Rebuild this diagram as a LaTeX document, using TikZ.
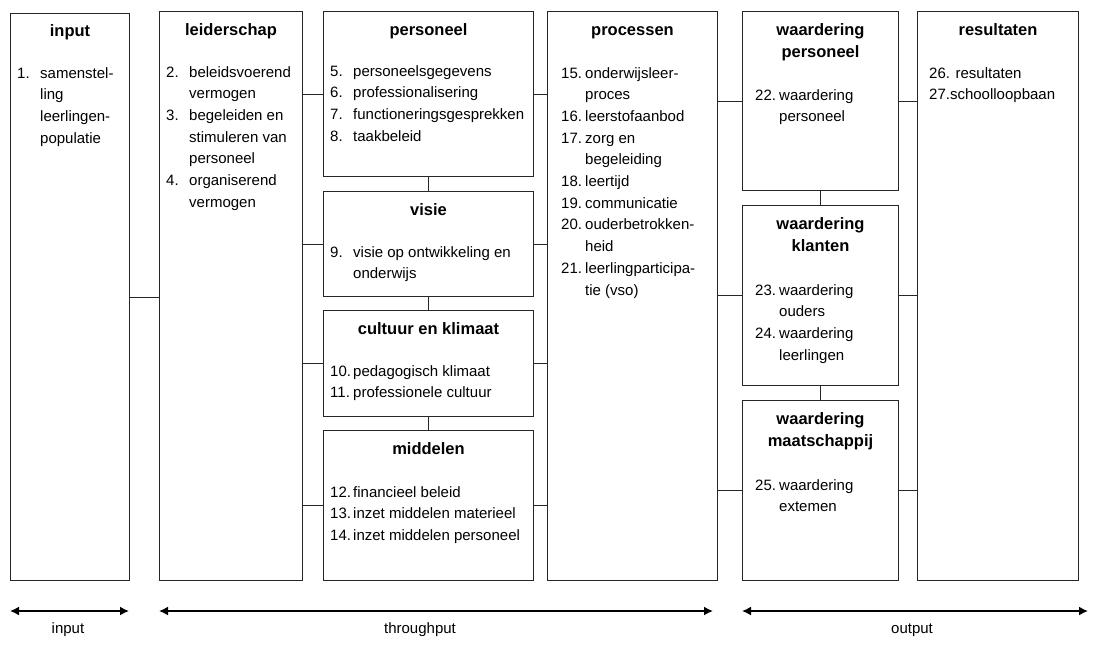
\documentclass[tikz,border=0pt]{standalone}
\usepackage{fontspec}
\setmainfont{Liberation Sans}
\usetikzlibrary{arrows.meta}

\tikzset{
  blok/.style={draw=black!85, line width=1pt, inner sep=0pt, anchor=north west},
  titel/.style={font=\fontsize{16.5}{22}\selectfont\bfseries, align=center,
    anchor=north, inner sep=0pt, execute at begin node=\strut},
  lijst/.style={font=\fontsize{15}{21.7}\selectfont, align=left,
    anchor=north west, inner sep=0pt, execute at begin node=\strut},
  lijn/.style={black!85, line width=0.9pt},
  pijl/.style={{Latex[length=9pt,width=9pt]}-{Latex[length=9pt,width=9pt]}, line width=1.6pt},
  fase/.style={font=\fontsize{15}{18}\selectfont, anchor=base, inner sep=0pt},
}
\newcommand{\nr}[2][23pt]{\makebox[#1][l]{#2}}
\newcommand{\verder}[1][23pt]{\hspace*{#1}}

\begin{document}
\begin{tikzpicture}[x=1pt,y=-1pt]
  \useasboundingbox (0,0) rectangle (1097,646);
  % kolommen en blokken
  \node[blok, minimum width=119pt, minimum height=567pt] (input) at (10,13) {};
  \node[blok, minimum width=143pt, minimum height=569pt] (leid) at (159,11) {};
  \node[blok, minimum width=210pt, minimum height=165pt] (pers) at (323,11) {};
  \node[blok, minimum width=210pt, minimum height=105pt] (visie) at (323,191) {};
  \node[blok, minimum width=210pt, minimum height=106pt] (cult) at (323,310) {};
  \node[blok, minimum width=210pt, minimum height=150pt] (midd) at (323,430) {};
  \node[blok, minimum width=170pt, minimum height=569pt] (proc) at (547,11) {};
  \node[blok, minimum width=156pt, minimum height=179pt] (wpers) at (742,11) {};
  \node[blok, minimum width=156pt, minimum height=180pt] (wklant) at (742,205) {};
  \node[blok, minimum width=156pt, minimum height=180pt] (wmaat) at (742,400) {};
  \node[blok, minimum width=161pt, minimum height=569pt] (result) at (917,11) {};

  % titels
  \node[titel] (t-input) at ([yshift=-8pt]input.north) {input};
  \node[titel] (t-leid) at ([yshift=-9pt]leid.north) {leiderschap};
  \node[titel] (t-pers) at ([yshift=-9pt]pers.north) {personeel};
  \node[titel] (t-visie) at ([yshift=-9pt]visie.north) {visie};
  \node[titel] (t-cult) at ([yshift=-9pt]cult.north) {cultuur en klimaat};
  \node[titel] (t-midd) at ([yshift=-9pt]midd.north) {middelen};
  \node[titel] (t-proc) at ([yshift=-9pt]proc.north) {processen};
  \node[titel] (t-wpers) at ([yshift=-12pt]wpers.north) {waardering\\personeel};
  \node[titel] (t-wklant) at ([yshift=-12pt]wklant.north) {waardering\\klanten};
  \node[titel] (t-wmaat) at ([yshift=-12pt]wmaat.north) {waardering\\maatschappij};
  \node[titel] (t-result) at ([yshift=-9pt]result.north) {resultaten};

  % lijsten
  \node[lijst] (l-input) at ([xshift=7pt,yshift=-54pt]input.north west)
    {\nr{1.}samenstel-\\\verder ling\\\verder leerlingen-\\\verder populatie};
  \node[lijst] (l-leid) at ([xshift=7pt,yshift=-55pt]leid.north west)
    {\nr{2.}beleidsvoerend\\\verder vermogen\\\nr{3.}begeleiden en\\\verder stimuleren van\\\verder personeel\\\nr{4.}organiserend\\\verder vermogen};
  \node[lijst] (l-pers) at ([xshift=7pt,yshift=-54pt]pers.north west)
    {\nr{5.}personeelsgegevens\\\nr{6.}professionalisering\\\nr{7.}functioneringsgesprekken\\\nr{8.}taakbeleid};
  \node[lijst] (l-visie) at ([xshift=7pt,yshift=-55pt]visie.north west)
    {\nr{9.}visie op ontwikkeling en\\\verder onderwijs};
  \node[lijst] (l-cult) at ([xshift=7pt,yshift=-55pt]cult.north west)
    {\nr{10.}pedagogisch klimaat\\\nr{11.}professionele cultuur};
  \node[lijst] (l-midd) at ([xshift=7pt,yshift=-56pt]midd.north west)
    {\nr{12.}financieel beleid\\\nr{13.}inzet middelen materieel\\\nr{14.}inzet middelen personeel};
  \node[lijst] (l-proc) at ([xshift=14pt,yshift=-56pt]proc.north west)
    {\nr[24pt]{15.}onderwijsleer-\\\verder[24pt]proces\\\nr[24pt]{16.}leerstofaanbod\\\nr[24pt]{17.}zorg en\\\verder[24pt]begeleiding\\\nr[24pt]{18.}leertijd\\\nr[24pt]{19.}communicatie\\\nr[24pt]{20.}ouderbetrokken-\\\verder[24pt]heid\\\nr[24pt]{21.}leerlingparticipa-\\\verder[24pt]tie (vso)};
  \node[lijst] (l-wpers) at ([xshift=13pt,yshift=-78pt]wpers.north west)
    {\nr[24pt]{22.}waardering\\\verder[24pt]personeel};
  \node[lijst] (l-wklant) at ([xshift=13pt,yshift=-79pt]wklant.north west)
    {\nr[24pt]{23.}waardering\\\verder[24pt]ouders\\\nr[24pt]{24.}waardering\\\verder[24pt]leerlingen};
  \node[lijst] (l-wmaat) at ([xshift=13pt,yshift=-79pt]wmaat.north west)
    {\nr[24pt]{25.}waardering\\\verder[24pt]extemen};
  \node[lijst] (l-result) at ([xshift=12pt,yshift=-56pt]result.north west)
    {26. resultaten\\27.schoolloopbaan};

  % verbindingen
  \draw[lijn] (input.east) -- (leid.west |- input.east);
  \foreach \b in {pers,visie,cult,midd} {
    \draw[lijn] (leid.east |- \b.west) -- (\b.west);
    \draw[lijn] (\b.east) -- (proc.west |- \b.east);
  }
  \draw[lijn] (pers.south) -- (visie.north);
  \draw[lijn] (visie.south) -- (cult.north);
  \draw[lijn] (cult.south) -- (midd.north);
  \foreach \b in {wpers,wklant,wmaat} {
    \draw[lijn] (proc.east |- \b.west) -- (\b.west);
    \draw[lijn] (\b.east) -- (result.west |- \b.east);
  }
  \draw[lijn] (wpers.south) -- (wklant.north);
  \draw[lijn] (wklant.south) -- (wmaat.north);

  % fasen
  \coordinate (in-l) at (10,611);
  \coordinate (in-r) at (129,611);
  \coordinate (th-l) at (159,611);
  \coordinate (th-r) at (713,611);
  \coordinate (out-l) at (742,611);
  \coordinate (out-r) at (1088,611);
  \draw[pijl] (in-l) -- (in-r);
  \draw[pijl] (th-l) -- (th-r);
  \draw[pijl] (out-l) -- (out-r);
  \node[fase] (f-input) at (68,633) {input};
  \node[fase] (f-through) at (420,633) {throughput};
  \node[fase] (f-output) at (912,633) {output};
\end{tikzpicture}
\end{document}
